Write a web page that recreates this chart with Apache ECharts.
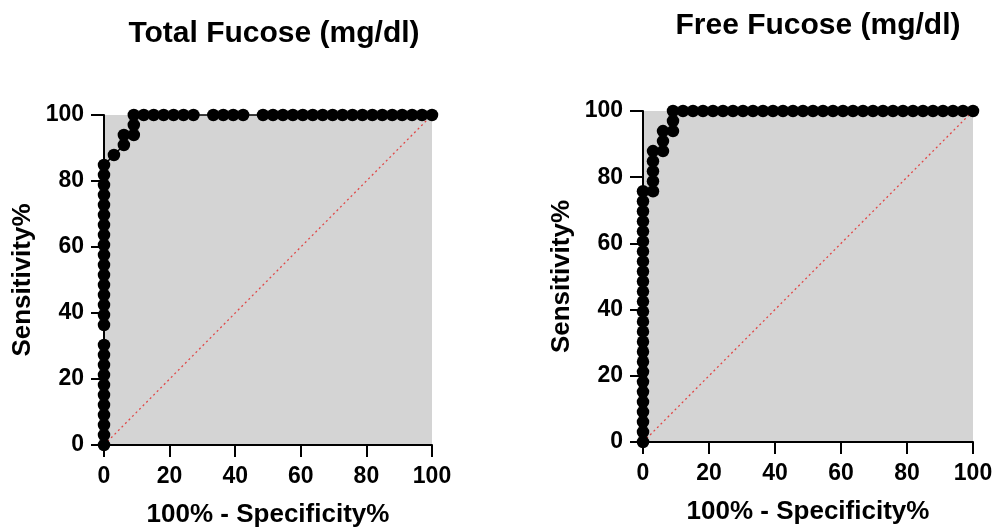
<!DOCTYPE html>
<html lang="en">
<head>
    <meta charset="UTF-8">
    <title>ROC fucose</title>
    <script src="https://cdn.jsdelivr.net/npm/echarts@6/dist/echarts.min.js"></script>
    <style>
        html, body { margin: 0; padding: 0; background: #fff; }
        #myChart { width: 998px; height: 527px; }
    </style>
</head>
<body>
<div id="myChart"></div>
<script type="text/javascript">
    // ROC points (100% - Specificity%, Sensitivity%)
    var totalX = [0, 0, 0, 0, 0, 0, 0, 0, 0, 0, 0,
        0, 0, 0, 0, 0, 0, 0, 0, 0, 0, 0, 0, 0, 0, 0, 0, 0,
        3.03, 6.06, 6.06, 9.09, 9.09, 9.09,
        12.12, 15.15, 18.18, 21.21, 24.24, 27.27, 33.33, 36.36, 39.39, 42.42,
        48.48, 51.52, 54.55, 57.58, 60.61, 63.64, 66.67, 69.7, 72.73, 75.76,
        78.79, 81.82, 84.85, 87.88, 90.91, 93.94, 96.97, 100];
    var totalY = [0, 3.03, 6.06, 9.09, 12.12, 15.15, 18.18, 21.21, 24.24, 27.27, 30.3,
        36.36, 39.39, 42.42, 45.45, 48.48, 51.52, 54.55, 57.58, 60.61, 63.64, 66.67, 69.7, 72.73, 75.76, 78.79, 81.82, 84.85,
        87.88, 90.91, 93.94, 93.94, 96.97, 100,
        100, 100, 100, 100, 100, 100, 100, 100, 100, 100,
        100, 100, 100, 100, 100, 100, 100, 100, 100, 100,
        100, 100, 100, 100, 100, 100, 100, 100];

    var freeX = [0, 0, 0, 0, 0, 0, 0, 0, 0, 0, 0, 0, 0,
        0, 0, 0, 0, 0, 0, 0, 0, 0, 0, 0, 0, 0,
        3.03, 3.03, 3.03, 3.03, 3.03, 6.06, 6.06, 6.06, 9.09, 9.09, 9.09,
        12.12, 15.15, 18.18, 21.21, 24.24, 27.27, 30.3, 33.33, 36.36, 39.39,
        42.42, 45.45, 48.48, 51.52, 54.55, 57.58, 60.61, 63.64, 66.67, 69.7,
        72.73, 75.76, 78.79, 81.82, 84.85, 87.88, 90.91, 93.94, 96.97, 100];
    var freeY = [0, 3.03, 6.06, 9.09, 12.12, 15.15, 18.18, 21.21, 24.24, 27.27, 30.3, 33.33, 36.36,
        39.39, 42.42, 45.45, 48.48, 51.52, 54.55, 57.58, 60.61, 63.64, 66.67, 69.7, 72.73, 75.76,
        75.76, 78.79, 81.82, 84.85, 87.88, 87.88, 90.91, 93.94, 93.94, 96.97, 100,
        100, 100, 100, 100, 100, 100, 100, 100, 100, 100,
        100, 100, 100, 100, 100, 100, 100, 100, 100, 100,
        100, 100, 100, 100, 100, 100, 100, 100, 100, 100];

    var refLine = [[0, 0], [100, 100]];
    var tickLabels = ['0', '20', '40', '60', '80', '100'];

    var font = 'Liberation Sans, Arial, sans-serif';

    function pairs(xs, ys) {
        var out = [];
        for (var i = 0; i < xs.length; i++) {
            out.push([xs[i], ys[i]]);
        }
        return out;
    }

    function xAxisOf(idx) {
        return {
            type: 'value', gridIndex: idx, min: 0, max: 100, interval: 20,
            name: '100% - Specificity%', nameLocation: 'middle', nameGap: 57,
            nameTextStyle: {color: '#000', fontFamily: font, fontWeight: 'bold', fontSize: 26},
            axisLine: {show: true, onZero: false, lineStyle: {color: '#000', width: 2}},
            axisTick: {show: true, length: 12, lineStyle: {color: '#000', width: 2}},
            axisLabel: {
                color: '#000', fontFamily: font, fontWeight: 'bold', fontSize: 23, margin: 20,
                formatter: function (v) { return tickLabels[v / 20]; }
            },
            splitLine: {show: false}
        };
    }

    function yAxisOf(idx) {
        return {
            type: 'value', gridIndex: idx, min: 0, max: 100, interval: 20,
            name: 'Sensitivity%', nameLocation: 'middle', nameGap: 68,
            nameTextStyle: {color: '#000', fontFamily: font, fontWeight: 'bold', fontSize: 26},
            axisLine: {show: true, onZero: false, lineStyle: {color: '#000', width: 2}},
            axisTick: {show: true, length: 13, lineStyle: {color: '#000', width: 2}},
            axisLabel: {
                color: '#000', fontFamily: font, fontWeight: 'bold', fontSize: 23, margin: 20,
                formatter: function (v) { return tickLabels[v / 20]; }
            },
            splitLine: {show: false}
        };
    }

    function rocSeries(idx, data) {
        return {
            type: 'line', xAxisIndex: idx, yAxisIndex: idx, data: data,
            symbol: 'circle', symbolSize: 12.5, showAllSymbol: true, clip: false, z: 5,
            itemStyle: {color: '#000'},
            lineStyle: {color: '#000', width: 1.5}
        };
    }

    function diagSeries(idx) {
        return {
            type: 'line', xAxisIndex: idx, yAxisIndex: idx, data: refLine,
            symbol: 'none', z: 3,
            lineStyle: {color: '#e04848', width: 1.3, type: [2, 3]}
        };
    }

    var myChart = echarts.init(document.getElementById('myChart'));
    var option = {
        animation: false,
        backgroundColor: '#fff',
        title: [
            {text: 'Total Fucose (mg/dl)', left: 269, top: 14, textAlign: 'center',
                textStyle: {color: '#000', fontFamily: font, fontWeight: 'bold', fontSize: 30}},
            {text: 'Free Fucose (mg/dl)', left: 813, top: 6, textAlign: 'center',
                textStyle: {color: '#000', fontFamily: font, fontWeight: 'bold', fontSize: 30}}
        ],
        grid: [
            {left: 104, top: 115, width: 328, height: 330, outerBoundsMode: 'none', containLabel: false,
                show: true, backgroundColor: '#d4d4d4', borderWidth: 0},
            {left: 643, top: 111, width: 330, height: 331, outerBoundsMode: 'none', containLabel: false,
                show: true, backgroundColor: '#d4d4d4', borderWidth: 0}
        ],
        xAxis: [xAxisOf(0), xAxisOf(1)],
        yAxis: [yAxisOf(0), yAxisOf(1)],
        series: [
            diagSeries(0),
            rocSeries(0, pairs(totalX, totalY)),
            diagSeries(1),
            rocSeries(1, pairs(freeX, freeY))
        ]
    };
    myChart.setOption(option);
</script>
</body>
</html>
